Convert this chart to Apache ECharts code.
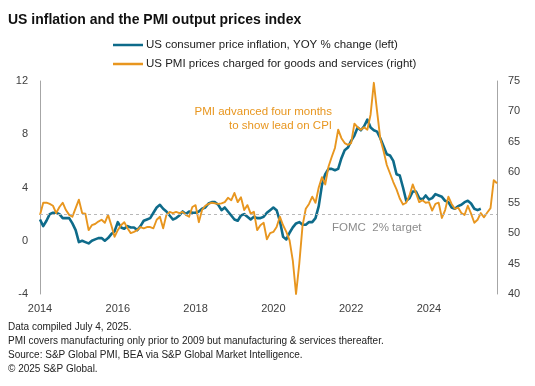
<!DOCTYPE html>
<html><head><meta charset="utf-8">
<script src="https://cdn.jsdelivr.net/npm/echarts@6/dist/echarts.min.js"></script>
<style>html,body{margin:0;padding:0;background:#fff}#c{width:535px;height:386px}</style>
</head><body><div id="c"></div>
<script>
// ---- data ----
const startYear = 2014;
const monthCount = 142; // Jan 2014 .. Oct 2025
const xTickLabels = ['2014', '2016', '2018', '2020', '2022', '2024'];
const cpiName = 'US consumer price inflation, YOY % change (left)';
const pmiName = 'US PMI prices charged for goods and services (right)';
// US CPI YoY %, Jan 2014 .. May 2025
const cpi = [
  1.6,1.1,1.5,2.0,2.1,2.1,2.0,1.7,1.7,1.7,1.3,0.8,
  -0.1,0.0,-0.1,-0.2,0.0,0.1,0.2,0.2,0.0,0.2,0.5,0.7,
  1.4,1.0,0.9,1.1,1.0,1.0,0.8,1.1,1.5,1.6,1.7,2.1,
  2.5,2.7,2.4,2.2,1.9,1.6,1.7,1.9,2.2,2.0,2.2,2.1,
  2.1,2.2,2.4,2.5,2.8,2.9,2.9,2.7,2.3,2.5,2.2,1.9,
  1.6,1.5,1.9,2.0,1.8,1.6,1.8,1.7,1.7,1.8,2.1,2.3,
  2.5,2.3,1.5,0.3,0.1,0.6,1.0,1.3,1.4,1.2,1.2,1.4,
  1.4,1.7,2.6,4.2,5.0,5.4,5.4,5.3,5.4,6.2,6.8,7.0,
  7.5,7.9,8.5,8.3,8.6,9.1,8.5,8.3,8.2,7.7,7.1,6.5,
  6.4,6.0,5.0,4.9,4.0,3.0,3.2,3.7,3.7,3.2,3.1,3.4,
  3.1,3.2,3.5,3.4,3.3,3.0,2.9,2.5,2.4,2.6,2.7,2.9,
  3.0,2.8,2.4,2.3,2.4
];
// PMI output prices index, advanced 4 months (plotted Jan 2014 .. Oct 2025)
const pmiAdvanced = [
  53.0,55.0,55.0,54.8,54.5,53.3,54.3,55.0,53.8,53.0,52.7,54.1,
  55.5,53.3,53.2,50.5,51.3,51.5,51.9,52.2,51.7,53.0,51.3,49.4,
  50.5,51.3,51.8,50.8,50.0,50.2,50.5,51.0,50.8,51.0,51.0,50.8,
  52.2,52.7,50.8,53.0,53.5,53.3,53.5,53.3,53.5,53.0,52.7,54.3,
  54.6,51.8,53.8,54.5,54.8,55.0,54.9,54.8,54.9,55.1,55.8,55.4,
  56.6,55.1,55.9,53.8,54.6,53.2,53.5,50.5,51.3,51.7,49.0,50.0,
  50.2,51.0,52.7,51.3,50.2,48.8,45.5,40.0,45.0,51.2,54.0,54.8,
  56.0,55.0,57.5,59.2,58.0,60.9,62.5,64.0,67.0,65.6,64.8,64.5,
  64.8,68.0,67.4,67.0,67.4,67.0,69.5,74.7,70.0,65.5,63.5,61.2,
  59.8,58.4,57.2,55.7,54.7,55.0,56.2,58.0,56.6,55.1,55.4,55.0,
  55.1,53.7,54.8,55.0,52.5,53.8,56.0,54.8,54.0,54.2,53.3,53.0,
  54.5,53.2,51.7,52.2,53.3,52.6,53.4,54.1,58.7,58.2
];
const fomcTarget = 2;
const footnotes = [
  'Data compiled July 4, 2025.',
  'PMI covers manufacturing only prior to 2009 but manufacturing & services thereafter.',
  'Source: S&P Global PMI, BEA via S&P Global Market Intelligence.',
  '\u00a9 2025 S&P Global.'
];
const annotationLines = ['PMI advanced four months', 'to show lead on CPI'];

// ---- chart ----
const months = [];
for (let i = 0; i < monthCount; i++) {
  const y = startYear + Math.floor(i / 12), m = i % 12 + 1;
  months.push(y + '-' + String(m).padStart(2, '0'));
}
const FONT = 'Arial, "Liberation Sans", sans-serif';
const BLUE = '#0e6b8a', ORANGE = '#e8961f', AX = '#a6a6a6', LBL = '#404040';

const graphics = [
  { type: 'text', left: 8, top: 13, style: { text: 'US inflation and the PMI output prices index', font: 'bold 14px ' + FONT, fill: '#111' } },
  { type: 'text', x: 332, y: 112, style: { text: annotationLines[0], font: '11.5px ' + FONT, fill: ORANGE, textAlign: 'right', textVerticalAlign: 'middle' } },
  { type: 'text', x: 332, y: 126, style: { text: annotationLines[1], font: '11.5px ' + FONT, fill: ORANGE, textAlign: 'right', textVerticalAlign: 'middle' } },
  { type: 'text', x: 332, y: 228, style: { text: 'FOMC  2% target', font: '11.5px ' + FONT, fill: '#8c8c8c', textVerticalAlign: 'middle' } }
];
footnotes.forEach((t, i) => {
  graphics.push({ type: 'text', x: 8, y: 327 + i * 14.2, style: { text: t, font: '10px ' + FONT, fill: '#222', textVerticalAlign: 'middle' } });
});

const chart = echarts.init(document.getElementById('c'), null, { renderer: 'canvas' });
chart.setOption({
  animation: false,
  backgroundColor: '#fff',
  textStyle: { fontFamily: FONT },
  grid: { left: 40, right: 38, top: 81, bottom: 92, containLabel: false },
  legend: {
    orient: 'vertical', left: 108, top: 34, itemGap: 7, itemWidth: 30, itemHeight: 2.5,
    icon: 'rect', textStyle: { fontSize: 11.5, color: '#222', padding: [0, 0, 0, -2] },
    data: [cpiName, pmiName]
  },
  xAxis: {
    type: 'category', data: months, boundaryGap: false,
    axisLine: { show: false }, axisTick: { show: false }, splitLine: { show: false },
    axisLabel: { interval: 23, color: LBL, fontSize: 11, margin: 9, formatter: (v, i) => xTickLabels[i / 24] || '' }
  },
  yAxis: [
    { type: 'value', min: -4, max: 12, interval: 4, axisLine: { show: true, lineStyle: { color: AX } },
      axisTick: { show: false }, splitLine: { show: false }, axisLabel: { color: LBL, fontSize: 11, margin: 12 } },
    { type: 'value', position: 'right', min: 40, max: 75, interval: 5, axisLine: { show: true, lineStyle: { color: AX } },
      axisTick: { show: false }, splitLine: { show: false }, axisLabel: { color: LBL, fontSize: 11, margin: 11 } }
  ],
  series: [
    { name: cpiName, type: 'line', data: cpi, yAxisIndex: 0, symbol: 'none', z: 3,
      itemStyle: { color: BLUE }, lineStyle: { color: BLUE, width: 2.6, join: 'round' },
      markLine: { silent: true, symbol: ['none', 'none'], label: { show: false },
        lineStyle: { type: [3, 3], color: '#b8b8b8', width: 1 }, data: [{ yAxis: fomcTarget }] } },
    { name: pmiName, type: 'line', data: pmiAdvanced, yAxisIndex: 1, symbol: 'none', z: 4,
      itemStyle: { color: ORANGE }, lineStyle: { color: ORANGE, width: 1.9, join: 'round' } }
  ],
  graphic: graphics
});
</script>
</body></html>
